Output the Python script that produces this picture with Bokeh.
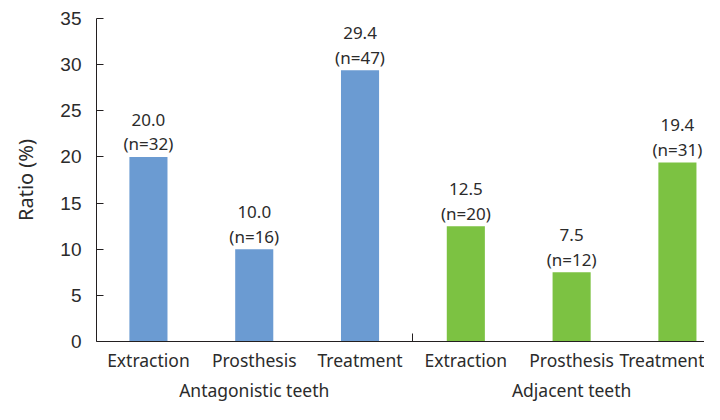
from bokeh.plotting import figure
from bokeh.models import Range1d, FixedTicker, ColumnDataSource
from bokeh.core.properties import value
from bokeh.embed import file_html
from bokeh.resources import INLINE

# ---- data ----
groups = ["Antagonistic teeth", "Adjacent teeth"]
treatments = ["Extraction", "Prosthesis", "Treatment"]
antagonistic_ratio = [20.0, 10.0, 29.4]
antagonistic_n = [32, 16, 47]
adjacent_ratio = [12.5, 7.5, 19.4]
adjacent_n = [20, 12, 31]
group_colors = ["#6b9bd2", "#7cc242"]
y_ticks = [0, 5, 10, 15, 20, 25, 30, 35]

AXIS = "#231f20"
TXT = "#2b2b2b"

ratios = antagonistic_ratio + adjacent_ratio
counts = antagonistic_n + adjacent_n
n_t = len(treatments)
colors = [group_colors[0]] * n_t + [group_colors[1]] * n_t
xs = list(range(len(ratios)))

# tick labels: the group name sits under the middle treatment of each group
labels = []
for g in groups:
    for j, t in enumerate(treatments):
        labels.append(t + "\n" + g if j == n_t // 2 else t)

src = ColumnDataSource(dict(
    x=xs, top=ratios, color=colors,
    val=[f"{r:.1f}" for r in ratios],
    n=[f"(n={c})" for c in counts],
))

p = figure(width=704, height=404, output_backend="svg", toolbar_location=None,
           x_range=Range1d(-0.491, 5.256), y_range=Range1d(0, 35),
           min_border_left=96, min_border_right=0, min_border_top=18, min_border_bottom=58)
p.outline_line_color = None
p.xgrid.visible = False
p.ygrid.visible = False
p.background_fill_color = "white"

p.vbar(x="x", top="top", width=0.36, color="color", line_color=None, source=src)

p.text(x="x", y="top", text="n", source=src, text_align="center", text_baseline="alphabetic",
       y_offset=-13, text_font=value("Noto Sans"), text_font_size="17px", text_color=TXT)
p.text(x="x", y="top", text="val", source=src, text_align="center", text_baseline="alphabetic",
       y_offset=-37, text_font=value("Noto Sans"), text_font_size="17px", text_color=TXT)

# y axis
ya = p.yaxis[0]
ya.ticker = FixedTicker(ticks=y_ticks)
ya.axis_label = "Ratio (%)"
ya.axis_label_text_font = "Noto Sans"
ya.axis_label_text_font_style = "normal"
ya.axis_label_text_font_size = "20px"
ya.axis_label_text_color = TXT
ya.axis_label_standoff = 18
ya.major_label_text_font = "Liberation Sans"
ya.major_label_text_font_size = "19px"
ya.major_label_text_color = TXT
ya.major_label_standoff = 15
ya.major_tick_in = 7
ya.major_tick_out = 0
ya.minor_tick_line_color = None
ya.axis_line_color = AXIS
ya.major_tick_line_color = AXIS

# x axis (treatments + group names)
boundary = n_t - 0.5
xa = p.xaxis[0]
xa.ticker = FixedTicker(ticks=xs, minor_ticks=[boundary])
xa.major_label_overrides = {i: lab for i, lab in zip(xs, labels)}
xa.major_label_text_font = "Noto Sans"
xa.major_label_text_font_size = "17.5px"
xa.major_label_text_line_height = 1.25
xa.major_label_text_color = TXT
xa.major_label_standoff = 0
xa.major_tick_line_color = None
xa.minor_tick_in = 8
xa.minor_tick_out = 0
xa.minor_tick_line_color = AXIS
xa.axis_line_color = AXIS

open("out.html", "w").write(file_html(p, INLINE))
